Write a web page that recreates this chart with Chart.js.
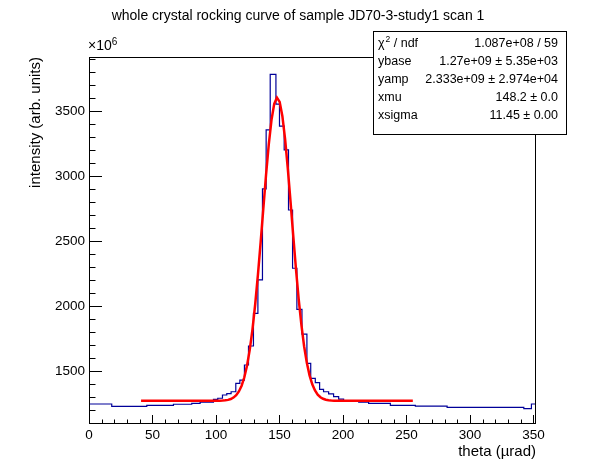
<!DOCTYPE html>
<html>
<head>
<meta charset="utf-8">
<script src="https://cdn.jsdelivr.net/npm/chart.js@4.4.1/dist/chart.umd.min.js"></script>
<style>
    html, body { margin: 0; padding: 0; background: #fff; }
</style>
</head>
<body>
<canvas id="rockingCurve" width="596" height="472"></canvas>
<script>
// histogram bin edges (theta, urad) and contents (intensity in units of 1e6)
const binEdges = [
    0, 17.9, 45.5, 66.5, 80.9, 87.5, 98.0, 101.4, 105.1, 108.5,
    111.9, 115.6, 118.8, 122.4, 125.6, 129.5, 133.0, 136.6, 139.5, 142.7,
    147.2, 150.0, 153.7, 157.1, 160.3, 163.7, 167.7, 171.6, 174.6, 178.2,
    181.6, 184.7, 188.7, 192.6, 196.6, 200.5, 212.4, 220.2, 237.3, 257.0,
    282.0, 342.4, 348.4, 352.0
];
const binContents = [
    1246, 1228, 1236, 1244, 1251, 1261, 1282, 1290, 1315,
    1325, 1340, 1405, 1430, 1546, 1692, 1943, 2200, 2900, 3354,
    3782, 3553, 3384, 3200, 2738, 2290, 1974, 1784, 1559, 1443,
    1410, 1359, 1340, 1323, 1302, 1284, 1271, 1261, 1251, 1236,
    1230, 1220, 1210, 1246
];

// axis ranges and labelled ticks
const xRange = [0, 352];
const yRange = [1092, 3915];
const xTickValues = [0, 50, 100, 150, 200, 250, 300, 350];
const yTickValues = [1500, 2000, 2500, 3000, 3500];
const xMinorStep = 10;
const yMinorStep = 100;

// gaussian fit as printed in the stats box (ybase, yamp in units of 1e6)
const fitParams = [1270, 2333, 148.2, 11.45];   // ybase, yamp, xmu, xsigma
const fitRange = [41, 255];
const fitNpx = 100;

const statLabels = ['χ2 / ndf', 'ybase', 'yamp', 'xmu', 'xsigma'];
const statValues = [
    '1.087e+08 / 59',
    '1.27e+09 ± 5.35e+03',
    '2.333e+09 ± 2.974e+04',
    '148.2 ± 0.0',
    '11.45 ± 0.00'
];

const FONT = "'Liberation Sans', Arial, Helvetica, sans-serif";

// each bin content is held from its left edge to the next edge
function buildHistPoints() {
    return binEdges.map(function (edge, i) {
        const content = binContents[Math.min(i, binContents.length - 1)];
        return { x: edge, y: content };
    });
}

function buildFitPoints() {
    const base = fitParams[0], amp = fitParams[1], mu = fitParams[2], sigma = fitParams[3];
    const pts = [];
    const step = (fitRange[1] - fitRange[0]) / fitNpx;
    for (let i = 0; i <= fitNpx; i++) {
        const x = fitRange[0] + i * step;
        const t = (x - mu) / sigma;
        pts.push({ x: x, y: base + amp * Math.exp(-0.5 * t * t) });
    }
    return pts;
}

// ROOT-like frame, inside ticks, exponent, title and stats box
const rootStyle = {
    id: 'rootStyle',
    afterDraw: function (chart) {
        const ctx = chart.ctx;
        const a = chart.chartArea;
        const xs = chart.scales.x;
        const ys = chart.scales.y;
        ctx.save();
        ctx.strokeStyle = '#000';
        ctx.lineWidth = 1;

        ctx.strokeRect(Math.round(a.left) + 0.5, Math.round(a.top) + 0.5,
            Math.round(a.right - a.left) - 1, Math.round(a.bottom - a.top) - 1);

        ctx.beginPath();
        for (let v = xRange[0]; v <= xRange[1]; v += xMinorStep) {
            const px = Math.round(xs.getPixelForValue(v)) + 0.5;
            const len = v % 50 === 0 ? 9 : 4.5;
            ctx.moveTo(px, a.bottom);
            ctx.lineTo(px, a.bottom - len);
        }
        const yStart = Math.ceil(yRange[0] / yMinorStep) * yMinorStep;
        for (let v = yStart; v <= yRange[1]; v += yMinorStep) {
            const py = Math.round(ys.getPixelForValue(v)) + 0.5;
            const len = v % 500 === 0 ? 13 : 6.5;
            ctx.moveTo(a.left, py);
            ctx.lineTo(a.left + len, py);
        }
        ctx.stroke();

        ctx.fillStyle = '#000';
        ctx.textBaseline = 'alphabetic';
        ctx.textAlign = 'left';
        ctx.font = '14px ' + FONT;
        ctx.fillText('×10', a.left - 1, a.top - 7);
        const w10 = ctx.measureText('×10').width;
        ctx.font = '10px ' + FONT;
        ctx.fillText('6', a.left - 1 + w10, a.top - 12.5);

        ctx.font = '14px ' + FONT;
        ctx.textAlign = 'center';
        ctx.textBaseline = 'middle';
        ctx.fillText('whole crystal rocking curve of sample JD70-3-study1 scan 1', chart.width / 2, 16);

        // stats box
        const bx = 373, by = 31, bw = 193, bh = 103;
        ctx.fillStyle = '#fff';
        ctx.fillRect(bx, by, bw, bh);
        ctx.strokeRect(bx + 0.5, by + 0.5, bw, bh);
        ctx.fillStyle = '#000';
        ctx.font = '12.5px ' + FONT;
        statLabels.forEach(function (label, i) {
            const ry = by + 12.5 + i * 18.1;
            ctx.textAlign = 'left';
            if (i === 0) {
                ctx.fillText('χ', bx + 5, ry);
                const wc = ctx.measureText('χ').width;
                ctx.font = '8.5px ' + FONT;
                ctx.fillText('2', bx + 5 + wc + 1, ry - 4);
                const w2 = ctx.measureText('2').width;
                ctx.font = '12.5px ' + FONT;
                ctx.fillText(' / ndf', bx + 5 + wc + 1 + w2, ry);
            } else {
                ctx.fillText(label, bx + 5, ry);
            }
            ctx.textAlign = 'right';
            ctx.fillText(statValues[i], bx + bw - 8, ry);
        });
        ctx.restore();
    }
};

function initChart() {
    const tickFont = { family: FONT, size: 13.5 };
    const titleFont = { family: FONT, size: 15 };
    const plainLabel = function (value) { return String(value); };
    new Chart(document.getElementById('rockingCurve'), {
        type: 'line',
        data: {
            datasets: [{
                label: 'fit',
                data: buildFitPoints(),
                borderColor: '#ff0000',
                borderWidth: 2.5,
                pointRadius: 0,
                tension: 0,
                order: 0
            }, {
                label: 'histogram',
                data: buildHistPoints(),
                borderColor: '#000099',
                borderWidth: 1.2,
                pointRadius: 0,
                stepped: 'before',
                order: 1
            }]
        },
        options: {
            responsive: false,
            animation: false,
            layout: { padding: { left: 0, right: 60, top: 57, bottom: 0 } },
            plugins: {
                legend: { display: false },
                tooltip: { enabled: false },
                title: { display: false }
            },
            scales: {
                x: {
                    type: 'linear',
                    min: xRange[0],
                    max: xRange[1],
                    grid: { display: false, drawTicks: false },
                    border: { display: false },
                    afterBuildTicks: function (scale) {
                        scale.ticks = xTickValues.map(function (v) { return { value: v }; });
                    },
                    afterFit: function (scale) {
                        scale.height = 48;
                        scale.paddingLeft = 0;
                        scale.paddingRight = 0;
                    },
                    ticks: {
                        font: tickFont, color: '#000', padding: 3, maxRotation: 0,
                        autoSkip: false, callback: plainLabel
                    },
                    title: {
                        display: true, text: 'theta (µrad)', align: 'end',
                        font: titleFont, color: '#000', padding: { top: 0, bottom: 11 }
                    }
                },
                y: {
                    min: yRange[0],
                    max: yRange[1],
                    grid: { display: false, drawTicks: false },
                    border: { display: false },
                    afterBuildTicks: function (scale) {
                        scale.ticks = yTickValues.map(function (v) { return { value: v }; });
                    },
                    afterFit: function (scale) {
                        scale.width = 89;
                        scale.paddingTop = 0;
                        scale.paddingBottom = 0;
                    },
                    ticks: {
                        font: tickFont, color: '#000', padding: 4,
                        autoSkip: false, callback: plainLabel
                    },
                    title: {
                        display: true, text: 'intensity (arb. units)', align: 'end',
                        font: titleFont, color: '#000', padding: { top: 27, bottom: 0 }
                    }
                }
            }
        },
        plugins: [rootStyle]
    });
}

initChart();
</script>
</body>
</html>
